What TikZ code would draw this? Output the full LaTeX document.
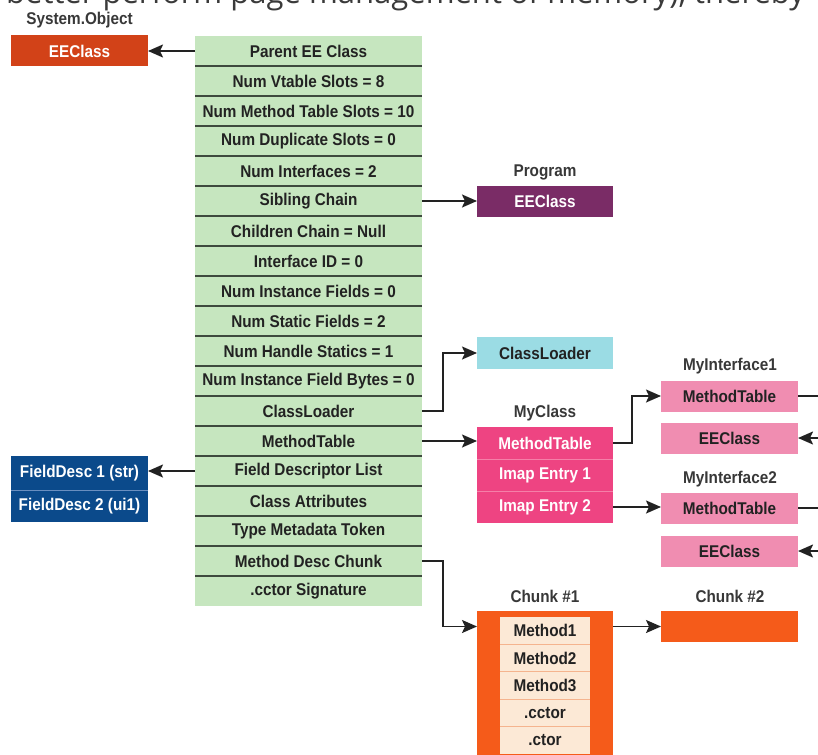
\documentclass[tikz,border=0pt]{standalone}
\usepackage{fontspec}
\usepackage{tikz}
\usetikzlibrary{arrows.meta,positioning,calc}
\newfontfamily\cond[FakeStretch=0.9]{Liberation Sans}
\newfontfamily\prose{Open Sans}
\definecolor{ink}{HTML}{222222}
\definecolor{cellgreen}{HTML}{C6E6BF}
\definecolor{rule}{HTML}{3E4A3E}
\definecolor{rust}{HTML}{D24218}
\definecolor{plum}{HTML}{7A2C66}
\definecolor{aqua}{HTML}{9BDCE4}
\definecolor{rose}{HTML}{EE4482}
\definecolor{roseline}{HTML}{F57FA8}
\definecolor{blush}{HTML}{F08DB1}
\definecolor{navy}{HTML}{0B4A8B}
\definecolor{navyline}{HTML}{6A8FC0}
\definecolor{tang}{HTML}{F55B1A}
\definecolor{peach}{HTML}{FCE9D6}
\definecolor{peachline}{HTML}{F5B48E}
\definecolor{prosegray}{HTML}{3A3A3A}
\tikzset{
  box/.style={inner sep=0pt, outer sep=0pt, minimum width=137pt, minimum height=31pt,
    font=\cond\bfseries\fontsize{17}{17}\selectfont},
  cell/.style={box, fill=cellgreen, text=ink, minimum width=227pt, minimum height=30pt},
  sep/.style={draw=rule, line width=1.8pt},
  thin/.style={line width=1pt},
  tag/.style={font=\cond\bfseries\fontsize{17}{17}\selectfont, text=ink!90},
  wire/.style={draw=ink, line width=1.8pt},
  arr/.style={wire, -{Stealth[length=15pt,width=13pt,inset=3pt]}},
}
\begin{document}
\begin{tikzpicture}[x=1pt,y=-1pt]
  \useasboundingbox (0,0) rectangle (818,754);
  \clip (0,0) rectangle (818,754);
  \fill[white] (0,0) rectangle (818,754);
  % cut-off line of body text above the figure
  \node[anchor=base west, inner sep=0pt, text=prosegray,
    font=\prose\fontsize{31}{31}\selectfont] (prose) at (6,4)
    {better perform page management of memory), thereby};

  % EEClass fields
  \foreach \txt [count=\i from 0] in {Parent EE Class, Num Vtable Slots = 8,
      Num Method Table Slots = 10, Num Duplicate Slots = 0, Num Interfaces = 2,
      Sibling Chain, Children Chain = Null, Interface ID = 0,
      Num Instance Fields = 0, Num Static Fields = 2, Num Handle Statics = 1,
      Num Instance Field Bytes = 0, ClassLoader, MethodTable,
      Field Descriptor List, Class Attributes, Type Metadata Token,
      Method Desc Chunk, .cctor Signature}
    \node[cell] (row\i) at (308.5,{51+30*\i}) {\txt};
  \foreach \i in {0,...,17}
    \draw[sep] (row\i.south west) -- (row\i.south east);

  % parent
  \node[tag] (sysobjtag) at (79.5,20) {System.Object};
  \node[box, fill=rust, text=white] (sysee) at (79.5,51) {EEClass};
  \draw[arr] (row0.west) -- (sysee.east);

  % sibling
  \node[tag] (progtag) at (545,172) {Program};
  \node[box, fill=plum, text=white, minimum width=136pt] (progee) at (545,201) {EEClass};
  \draw[arr] (row5.east) -- (progee.west);

  % loader
  \node[box, fill=aqua, text=ink, minimum width=136pt, minimum height=32pt] (loader) at (545,353) {ClassLoader};
  \draw[arr] (row12.east) -- ++(21,0) |- (loader.west);

  % method table and interface map
  \node[tag] (myclasstag) at (545,413) {MyClass};
  \foreach \txt [count=\i from 0] in {MethodTable, Imap Entry 1, Imap Entry 2}
    \node[box, fill=rose, text=white, minimum width=136pt, minimum height=32pt] (mc\i) at (545,{443+32*\i}) {\txt};
  \draw[thin, draw=roseline] (mc0.south west) -- (mc0.south east)
    (mc1.south west) -- (mc1.south east);
  \draw[arr] (row13.east) -- (row13.east -| mc0.west);

  \node[tag] (if1tag) at (730,366) {MyInterface1};
  \node[box, fill=blush, text=ink] (if1mt) at (729.5,396) {MethodTable};
  \node[box, fill=blush, text=ink] (if1ee) at (729.5,438) {EEClass};
  \node[tag] (if2tag) at (730,479) {MyInterface2};
  \node[box, fill=blush, text=ink] (if2mt) at (729.5,508) {MethodTable};
  \node[box, fill=blush, text=ink] (if2ee) at (729.5,551) {EEClass};
  \coordinate (rim) at (818,0);
  \draw[arr] (mc0.east) -- ++(19,0) |- (if1mt.west);
  \draw[arr] (mc2.east) -- (mc2.east -| if2mt.west);
  \draw[wire] (if1mt.east) -- (if1mt.east -| rim);
  \draw[wire] (if2mt.east) -- (if2mt.east -| rim);
  \draw[arr] (if1ee.east -| rim) -- (if1ee.east);
  \draw[arr] (if2ee.east -| rim) -- (if2ee.east);

  % field descriptors
  \node[box, fill=navy, text=white, minimum height=34pt] (fd1) at (79.5,473) {FieldDesc 1 (str)};
  \node[box, fill=navy, text=white, minimum height=32pt, below=0pt of fd1] (fd2) {FieldDesc 2 (ui1)};
  \draw[thin, draw=navyline] (fd1.south west) -- (fd1.south east);
  \draw[arr] (row14.west) -- (row14.west -| fd1.east);

  % method desc chunks
  \node[tag] (chunk1tag) at (545,596) {Chunk \#1};
  \node[box, fill=tang, minimum width=136pt, minimum height=170pt, anchor=north] (chunk1) at (545,611) {};
  \foreach \txt [count=\i from 0] in {Method1, Method2, Method3, .cctor, .ctor}
    \node[box, fill=peach, text=ink, minimum width=90pt, minimum height=27.4pt, anchor=north] (meth\i) at (545,{617+27.4*\i}) {\txt};
  \foreach \i in {0,...,3}
    \draw[thin, draw=peachline] (meth\i.south west) -- (meth\i.south east);
  \node[tag] (chunk2tag) at (730,596) {Chunk \#2};
  \node[box, fill=tang] (chunk2) at (729.5,626.5) {};
  \coordinate (chunkin) at (chunk1.west |- chunk2.west);
  \draw[arr] (row17.east) -- ++(21,0) |- (chunkin);
  \draw[arr] (chunk1.east |- chunk2.west) -- (chunk2.west);
\end{tikzpicture}
\end{document}
